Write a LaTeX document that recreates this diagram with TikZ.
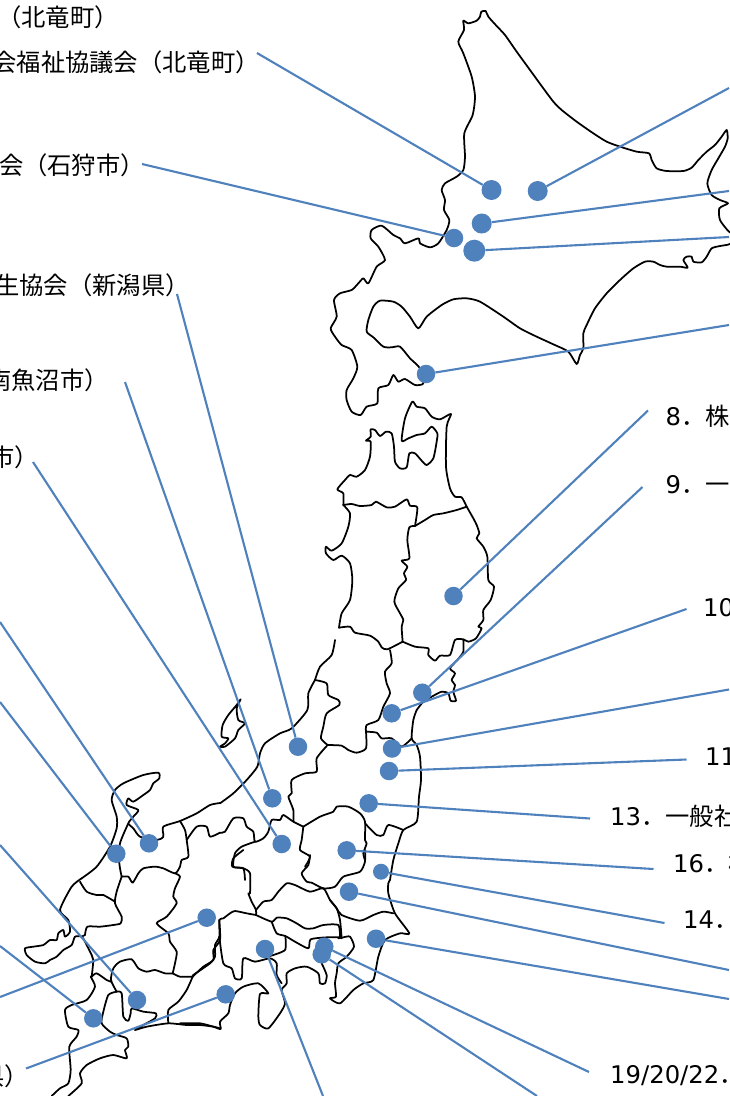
\documentclass[tikz,border=0pt]{standalone}
\usepackage{fontspec}
\setmainfont{DejaVu Sans}
\newfontfamily\jpfont{Noto Sans CJK JP}
\newfontfamily\latfont{DejaVu Sans}
\definecolor{pinblue}{HTML}{4F81BD}
\newcommand{\zpath}[1]{\draw[mapline] plot[smooth,tension=.4] coordinates {#1};}
\tikzset{
  mapline/.style={draw=black,line width=1.75pt,line join=round,line cap=round},
  conn/.style={draw=pinblue,line width=2.1pt},
  dot/.style={circle,fill=pinblue,inner sep=0pt,minimum size=18.5pt},
  lbl/.style={inner sep=0pt,text=black,font=\fontsize{24.3}{24}\selectfont\jpfont},
  zoomed/.style 2 args={shift={(#1pt,-#2pt)},x=0.33333pt,y=-0.33333pt}
}
\begin{document}
\begin{tikzpicture}[x=1pt,y=-1pt]
\useasboundingbox[fill=white] (0,0) rectangle (729,1096);
% ---------- Hokkaido
\begin{scope}[zoomed={320}{0}]
\draw[mapline] plot[smooth cycle,tension=.4] coordinates {
(480,50)(484,35)(497,33)(505,50)(530,78)(555,105)(590,155)(630,210)(670,265)(700,305)(725,330)(770,365)(820,400)(860,425)(900,440)(950,455)(987,460)(995,480)(1010,505)(1040,513)(1090,513)(1115,503)(1135,480)(1160,455)(1185,435)(1205,410)(1220,390)(1223,415)(1215,440)(1195,475)(1175,510)(1162,550)(1175,585)(1200,600)(1224,610)(1198,625)(1200,660)(1227,695)(1260,715)(1227,733)(1200,738)(1175,745)(1160,770)(1145,787)(1120,785)(1115,770)(1100,770)(1090,780)(1103,803)(1080,800)(1040,800)(1020,795)(1000,785)(975,785)(940,805)(900,840)(860,880)(825,925)(800,975)(790,1000)(790,1045)(780,1065)(770,1092)(745,1055)(700,1033)(650,1010)(600,985)(550,950)(480,905)(440,895)(400,898)(365,915)(320,950)(295,985)(270,950)(245,920)(220,905)(180,902)(160,920)(145,960)(140,995)(160,1012)(190,1040)(215,1042)(240,1040)(270,1075)(300,1105)(310,1150)(285,1155)(255,1137)(235,1145)(220,1125)(205,1155)(175,1165)(172,1210)(140,1220)(122,1245)(95,1235)(80,1200)(80,1170)(100,1135)(112,1100)(95,1050)(65,1035)(45,1010)(32,985)(50,950)(42,900)(60,880)(95,870)(115,850)(130,835)(145,850)(170,800)(195,780)(175,740)(152,715)(155,690)(185,677)(220,705)(240,715)(255,730)(295,715)(300,730)(330,742)(355,730)(380,690)(388,660)(372,630)(375,600)(365,570)(375,550)(410,530)(430,510)(435,470)(433,400)(458,345)(465,290)(455,230)(430,160)(415,125)(432,90)(430,62)(445,70)(470,62)};
\end{scope}
% ---------- Tohoku north
\begin{scope}[zoomed={300}{390}]
\zpath{(130,345)(130,310)(112,298)(135,270)(150,255)(170,260)(195,240)(210,200)(212,155)(198,152)(212,140)(212,118)(225,120)(240,138)(258,125)(275,130)(282,170)(285,215)(300,235)(320,232)(328,190)(345,190)(365,212)(380,225)(400,205)(410,155)(412,130)(395,110)(375,130)(350,135)(325,145)(305,152)(315,85)(337,35)(350,50)(375,55)(395,80)(420,88)(453,72)(440,110)(438,230)(450,295)(465,320)(485,322)(500,350)}
\zpath{(500,350)(470,360)(430,370)(400,375)(375,390)(345,408)}
\zpath{(130,345)(155,342)(180,348)(215,345)(228,335)(260,352)(285,350)(320,328)(330,347)(352,352)(345,408)}
\zpath{(345,408)(328,412)(322,450)(328,505)(305,512)(322,530)(312,550)(318,570)(295,595)(283,635)(300,670)(310,690)(305,710)(308,755)}
\zpath{(130,345)(150,370)(145,410)(125,460)(95,482)(78,470)(78,490)(100,510)(125,497)(150,520)(157,570)(150,630)(125,670)(117,713)}
\zpath{(117,713)(150,710)(165,728)(210,737)(235,755)(245,772)(262,778)(308,755)}
\zpath{(500,350)(520,385)(530,405)(538,430)(530,445)(550,470)(562,500)(565,570)(582,590)(572,630)(550,660)(550,690)(535,710)(545,715)(528,745)(505,755)(490,748)(465,750)(450,795)(420,797)(405,812)(385,795)(385,775)(345,770)(308,755)}
\end{scope}
% ---------- Miyagi coast
\begin{scope}[zoomed={400}{630}]
\zpath{(190,30)(190,65)(172,90)(150,115)(165,130)(155,150)(165,165)(160,185)(168,212)(152,212)(145,190)(125,185)(95,200)(70,215)(50,240)}
\end{scope}
% ---------- South Tohoku, Niigata, Kanto north
\begin{scope}[zoomed={220}{640}]
\zpath{(590,210)(580,240)(575,295)(590,315)(600,350)(603,420)(597,470)(590,545)(550,570)(535,610)(520,660)(510,720)}
\zpath{(510,30)(515,70)(495,95)(500,130)(510,160)(490,200)(475,240)(440,255)(438,275)}
\zpath{(438,275)(470,278)(485,295)(515,295)(545,320)(575,295)}
\zpath{(345,0)(335,45)(300,80)(285,120)}
\zpath{(285,120)(320,130)(325,165)(355,180)(358,195)(320,220)(310,260)(303,295)(323,315)}
\zpath{(323,315)(365,317)(385,330)(410,338)(438,325)(438,275)}
\zpath{(285,120)(265,160)(262,210)(215,265)(180,280)(135,310)(120,340)(112,380)(80,420)(40,460)(0,490)}
\zpath{(323,315)(290,355)(290,395)(255,400)(215,420)(215,460)(205,470)(220,510)(220,545)}
\zpath{(250,560)(300,530)(340,515)(350,500)(385,500)(420,520)(435,545)(435,600)(440,610)(430,640)(435,660)}
\zpath{(435,550)(470,585)(490,585)(505,555)(550,570)}
\zpath{(250,560)(245,600)(240,630)(270,650)(255,680)}
\zpath{(250,560)(220,545)(190,525)(180,540)(155,540)(145,575)(130,595)(105,605)(100,575)(80,560)(70,535)(40,535)(15,575)(0,578)}
\zpath{(105,605)(65,620)(45,640)(40,680)(70,685)(75,720)}
\draw[mapline] plot[smooth cycle,tension=.4] coordinates {(62,178)(50,195)(25,225)(8,255)(5,290)(25,295)(15,310)(0,320)(15,320)(45,295)(55,270)(75,250)(55,240)(50,205)};
\end{scope}
% ---------- Chubu, Kinki
\begin{scope}[zoomed={0}{760}]
\zpath{(660,129)(630,135)(590,160)(540,183)(490,200)(490,230)(470,240)(420,230)(400,205)(385,190)(400,170)(415,150)(380,135)(385,115)(400,125)(430,105)(450,90)(460,70)(478,55)(475,38)(430,45)(370,70)(345,90)(335,120)(350,170)(350,205)(330,260)(290,320)(245,355)}
\zpath{(540,183)(555,210)(560,240)(565,290)(545,300)(540,320)(525,340)(490,325)(465,320)(430,325)(415,340)(398,368)(385,350)(365,350)}
\zpath{(385,190)(360,250)(358,310)(365,350)}
\zpath{(660,218)(630,230)(620,200)(590,200)(560,240)}
\zpath{(525,340)(540,350)(525,385)(520,410)(530,430)(500,470)(470,490)(505,520)(510,545)(530,575)(525,610)(518,640)}
\zpath{(518,640)(540,650)(578,650)}
\zpath{(658,480)(660,540)(640,570)(640,600)(610,620)(578,650)}
\zpath{(578,650)(560,690)(535,725)(505,750)(505,790)}
\zpath{(518,640)(495,640)(465,630)(440,635)(415,625)(395,598)(360,605)(340,625)(333,660)(350,695)}
\zpath{(245,355)(215,380)(180,450)(205,480)(210,515)(195,530)(190,510)(175,520)(170,540)(150,540)(130,555)(100,560)(75,565)(80,585)(105,605)(135,610)(150,600)(170,590)(190,570)(215,555)(225,530)(245,530)(255,545)(275,585)(280,600)(275,650)(272,650)(285,680)(260,720)(215,735)(195,750)(205,800)(235,810)(230,830)(208,860)(212,930)(205,970)(180,985)(155,1008)}
\zpath{(255,525)(262,500)(300,500)(340,495)(362,490)(365,470)(345,430)(350,395)(365,350)}
\zpath{(245,530)(255,525)}
\zpath{(240,365)(260,395)(290,405)(310,405)(345,425)}
\zpath{(275,650)(290,640)(320,660)(333,665)}
\zpath{(350,695)(325,705)(310,755)(305,790)(330,815)(350,825)(380,835)(385,860)(375,870)(380,895)(340,885)(300,895)(260,915)(240,940)(245,970)(205,1008)}
\zpath{(350,695)(365,700)(370,770)(385,782)(392,760)(395,745)(430,755)(468,760)(465,775)(430,795)(405,810)(440,800)(505,790)(560,795)(600,795)(640,800)(660,805)}
\end{scope}
% ---------- Kanto, Shizuoka
\begin{scope}[zoomed={180}{850}]
\zpath{(190,0)(160,25)(157,50)(190,55)(210,70)(210,130)(205,130)(215,155)(228,180)(228,195)}
\zpath{(228,195)(200,190)(165,183)(150,190)(130,205)(118,210)(118,260)(105,285)(105,320)(90,340)(40,375)(38,380)}
\zpath{(0,520)(60,520)(100,530)(122,537)(120,515)(145,490)(150,465)(165,430)(190,410)(235,400)(265,430)(240,432)(235,500)(240,525)(265,535)(300,490)(315,460)(305,420)(320,400)(320,370)(345,355)(380,350)(415,370)(420,400)(435,400)(440,375)(425,340)}
\zpath{(118,260)(130,340)(155,355)(165,385)(185,385)(190,325)(225,335)(270,325)(290,340)(290,375)(305,400)}
\zpath{(270,318)(315,300)(316,258)}
\zpath{(228,180)(250,155)(275,150)(295,125)(320,100)(345,105)(390,125)(430,115)(450,150)(470,175)(480,210)(485,265)}
\zpath{(228,195)(275,215)(290,203)(320,205)(350,220)(375,235)(400,235)(430,225)(475,225)(480,262)}
\zpath{(275,215)(290,250)(316,258)(345,275)(385,295)(392,268)(440,262)(480,262)}
\zpath{(475,265)(490,262)(510,260)(522,290)(500,320)(475,340)(470,370)(465,400)(468,440)(450,445)(480,460)(520,420)(550,400)(580,390)(595,320)(615,270)(660,250)(688,250)(645,190)(625,130)(625,100)(630,90)}
\zpath{(450,150)(470,175)(485,195)(540,212)(580,195)(610,185)(640,190)}
\zpath{(390,15)(385,45)(365,70)(380,95)(395,98)(430,115)(465,110)(490,80)(540,65)(555,35)(555,0)}
\end{scope}
% ---------- pins
\node[dot,minimum size=20pt] (pa) at (491.5,190) {};
\node[dot,minimum size=20pt] (pb) at (537.7,191) {};
\node[dot,minimum size=20pt] (pc) at (481.7,223.5) {};
\node[dot] (pd) at (454,238) {};
\node[dot,minimum size=22pt] (pe) at (474.3,250.7) {};
\node[dot] (pf) at (426,374) {};
\node[dot] (pg) at (453.5,596) {};
\node[dot] (ph) at (422.3,692.7) {};
\node[dot] (pi) at (391.7,713.3) {};
\node[dot] (pj) at (392,748.5) {};
\node[dot] (pk) at (389,771) {};
\node[dot] (pl) at (368.7,803.3) {};
\node[dot] (pm) at (346.7,850.3) {};
\node[dot,minimum size=16pt] (pn) at (381,871.7) {};
\node[dot] (po) at (349,891.7) {};
\node[dot] (pp) at (376,938.7) {};
\node[dot] (pq) at (324.3,946.7) {};
\node[dot] (pr) at (321.7,954.3) {};
\node[dot] (ps) at (265,949) {};
\node[dot] (pt) at (225.7,994.3) {};
\node[dot] (pu) at (206.7,917.7) {};
\node[dot] (pv) at (137,1000) {};
\node[dot] (pw) at (93.3,1018.3) {};
\node[dot] (px) at (116.3,853.7) {};
\node[dot] (py) at (149,843.3) {};
\node[dot] (pz) at (281.7,844) {};
\node[dot] (paa) at (272.3,798.3) {};
\node[dot] (pab) at (298,746.7) {};
% ---------- free ends
\coordinate (ea) at (257,53);
\coordinate (eb) at (729,88);
\coordinate (ec) at (729,191);
\coordinate (ed) at (142,164);
\coordinate (ee) at (729,237);
\coordinate (ef) at (729,325);
\coordinate (eg) at (648,410.5);
\coordinate (eh) at (642.5,487);
\coordinate (ei) at (686.5,609);
\coordinate (ej) at (729,689.5);
\coordinate (ek) at (686.5,759.5);
\coordinate (el) at (590,818.5);
\coordinate (em) at (653.5,869);
\coordinate (en) at (664.5,923);
\coordinate (eo) at (729,970);
\coordinate (ep) at (729,999);
\coordinate (eq) at (589,1072);
\coordinate (er) at (537,1096);
\coordinate (es) at (323,1096);
\coordinate (et) at (26,1068.5);
\coordinate (eu) at (0,997);
\coordinate (ev) at (0,845);
\coordinate (ew) at (0,946);
\coordinate (ex) at (0,702);
\coordinate (ey) at (0,622);
\coordinate (ez) at (33,462);
\coordinate (eaa) at (125,382);
\coordinate (eab) at (177,294);
\foreach \n in {a,b,c,d,e,f,g,h,i,j,k,l,m,n,o,p,q,r,s,t,u,v,w,x,y,z,aa,ab}
  {\draw[conn] (p\n) -- (e\n);}
% ---------- labels
\node[lbl,anchor=base east] (t1) at (119,26.5) {（北竜町）};
\node[lbl,anchor=base east] (t2) at (260,71.5) {会福祉協議会（北竜町）};
\node[lbl,anchor=base east] (t3) at (145,174.5) {会（石狩市）};
\node[lbl,anchor=base east] (t4) at (190,294.5) {生協会（新潟県）};
\node[lbl,anchor=base east] (t5) at (109,389.5) {南魚沼市）};
\node[lbl,anchor=base east] (t6) at (39,466.5) {市）};
\node[lbl,anchor=base east] (t7) at (29,1085) {県）};
\node[lbl,anchor=base west] (t8) at (665.5,425) {{\latfont 8}．株};
\node[lbl,anchor=base west] (t9) at (665.5,493) {{\latfont 9}．一};
\node[lbl,anchor=base west] (t10) at (703,616) {{\latfont 10}};
\node[lbl,anchor=base west] (t11) at (705,765) {{\latfont 11}};
\node[lbl,anchor=base west] (t13) at (610,825) {{\latfont 13}．一般社};
\node[lbl,anchor=base west] (t16) at (673,872) {{\latfont 16}．株};
\node[lbl,anchor=base west] (t14) at (683,928) {{\latfont 14}．};
\node[lbl,anchor=base west] (t19) at (610,1083) {{\latfont 19/20/22}．};
\end{tikzpicture}
\end{document}
